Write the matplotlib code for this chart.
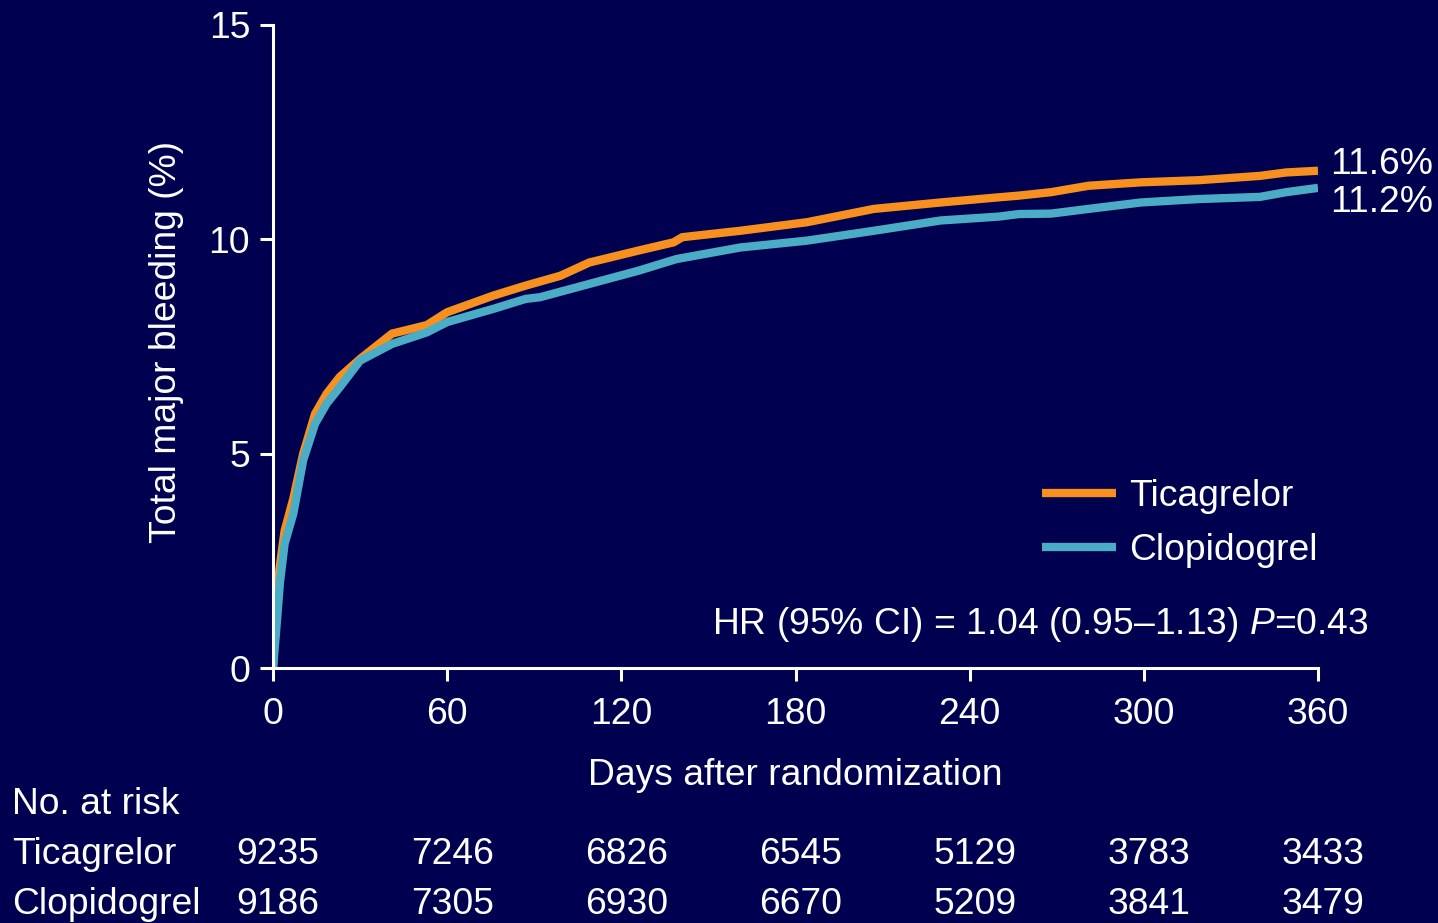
import matplotlib
matplotlib.use("Agg")
import matplotlib.pyplot as plt
from matplotlib import font_manager

# --- data -------------------------------------------------------------
tica_days = [0, 0.5, 1, 2.4, 4, 7, 10.4, 14.5, 18.5, 23, 30, 41, 53, 60, 76, 87, 99,
             109, 126, 138, 141, 161, 184, 207, 230, 250, 257, 268, 281, 299, 319,
             340, 349, 360]
tica_pct = [0, 0.9, 1.6, 2.4, 3.2, 3.95, 5.0, 5.93, 6.4, 6.79, 7.21, 7.8, 8.0, 8.3,
            8.69, 8.92, 9.15, 9.46, 9.74, 9.93, 10.05, 10.2, 10.4, 10.71, 10.86,
            10.98, 11.02, 11.1, 11.25, 11.33, 11.38, 11.48, 11.56, 11.6]

clop_days = [0, 1, 2.4, 4, 7, 10.4, 14.5, 18.5, 23, 30, 41, 53, 60, 76, 87, 92, 109,
             126, 139, 161, 184, 207, 230, 250, 257, 268, 281, 299, 319, 340, 349, 360]
clop_pct = [0, 0.8, 2.0, 2.9, 3.6, 4.85, 5.7, 6.17, 6.55, 7.17, 7.56, 7.83, 8.07,
            8.38, 8.61, 8.65, 8.96, 9.27, 9.54, 9.81, 9.97, 10.2, 10.44, 10.53,
            10.59, 10.6, 10.71, 10.86, 10.94, 10.99, 11.1, 11.2]

x_ticks = [0, 60, 120, 180, 240, 300, 360]
y_ticks = [0, 5, 10, 15]
risk_tica = [9235, 7246, 6826, 6545, 5129, 3783, 3433]
risk_clop = [9186, 7305, 6930, 6670, 5209, 3841, 3479]
end_labels = ["11.6%", "11.2%"]

# --- style ------------------------------------------------------------
BG = "#000050"
ORANGE = "#F7901E"
TEAL = "#4BACC6"
WHITE = "white"

available = {f.name for f in font_manager.fontManager.ttflist}
FONT = "Liberation Sans Narrow" if "Liberation Sans Narrow" in available else "Liberation Sans"
FS = 33 if FONT == "Liberation Sans Narrow" else 26.8

plt.rcParams["font.family"] = [FONT, "DejaVu Sans"]
plt.rcParams["mathtext.fontset"] = "custom"
plt.rcParams["mathtext.rm"] = FONT
plt.rcParams["mathtext.it"] = FONT + ":italic"

W, H = 1438, 923
fig = plt.figure(figsize=(W / 100, H / 100), dpi=100, facecolor=BG)


def fx(px):
    return px / W


def fy(py):
    return 1 - py / H


ax = fig.add_axes([fx(273), fy(668), fx(1318) - fx(273), fy(25) - fy(668)])
ax.set_facecolor(BG)

ax.plot(tica_days, tica_pct, color=ORANGE, lw=6, solid_capstyle="butt",
        solid_joinstyle="miter", label="Ticagrelor")
ax.plot(clop_days, clop_pct, color=TEAL, lw=6, solid_capstyle="butt",
        solid_joinstyle="miter", label="Clopidogrel")

ax.set_xlim(0, 360)
ax.set_ylim(0, 15)
ax.set_xticks(x_ticks)
ax.set_yticks(y_ticks)

for side in ("top", "right"):
    ax.spines[side].set_visible(False)
for side in ("left", "bottom"):
    ax.spines[side].set_color(WHITE)
    ax.spines[side].set_linewidth(2.2)

ax.tick_params(axis="both", colors=WHITE, labelcolor=WHITE, length=9.4, width=2.2,
               direction="out", labelsize=FS)
ax.tick_params(axis="y", pad=7)
ax.tick_params(axis="x", pad=11.5)

ax.set_xlabel("Days after randomization", color=WHITE, fontsize=FS)
ax.xaxis.set_label_coords(0.5, (668 - 758) / 643)
fig.text(fx(167), fy(342), "Total major bleeding (%)", rotation=90, color=WHITE,
         fontsize=FS, ha="center", va="center")

# end-of-follow-up event rates
ax.annotate(end_labels[0], xy=(360, tica_pct[-1]), xytext=(8.6, 4.4),
            textcoords="offset points", color=WHITE, fontsize=FS, va="center",
            annotation_clip=False)
ax.annotate(end_labels[1], xy=(360, clop_pct[-1]), xytext=(8.6, -10.3),
            textcoords="offset points", color=WHITE, fontsize=FS, va="center",
            annotation_clip=False)

leg = ax.legend(loc="upper left", bbox_to_anchor=(fx(1042), fy(479)),
                bbox_transform=fig.transFigure, frameon=False, fontsize=FS,
                handlelength=2.0, handletextpad=0.33, labelspacing=0.51,
                borderpad=0, borderaxespad=0)
for t in leg.get_texts():
    t.set_color(WHITE)
for h in leg.get_lines():
    h.set_linewidth(6)

fig.text(fx(1369), fy(625), r"HR (95% CI) = 1.04 (0.95–1.13) $\mathit{P}$=0.43",
         color=WHITE, fontsize=FS, ha="right", va="center")

# numbers at risk
row_y = {"head": 805, "tica": 854, "clop": 904}
fig.text(fx(12), fy(row_y["head"]), "No. at risk", color=WHITE, fontsize=FS,
         ha="left", va="center")
fig.text(fx(12), fy(row_y["tica"]), "Ticagrelor", color=WHITE, fontsize=FS,
         ha="left", va="center")
fig.text(fx(12), fy(row_y["clop"]), "Clopidogrel", color=WHITE, fontsize=FS,
         ha="left", va="center")
for d, a, b in zip(x_ticks, risk_tica, risk_clop):
    ax.annotate(str(a), xy=(d, 0), xycoords=("data", "axes fraction"),
                xytext=(5, 668 - row_y["tica"]), textcoords="offset pixels",
                color=WHITE, fontsize=FS, ha="center", va="center",
                annotation_clip=False)
    ax.annotate(str(b), xy=(d, 0), xycoords=("data", "axes fraction"),
                xytext=(5, 668 - row_y["clop"]), textcoords="offset pixels",
                color=WHITE, fontsize=FS, ha="center", va="center",
                annotation_clip=False)

fig.savefig("out.png", dpi=100, facecolor=BG)
